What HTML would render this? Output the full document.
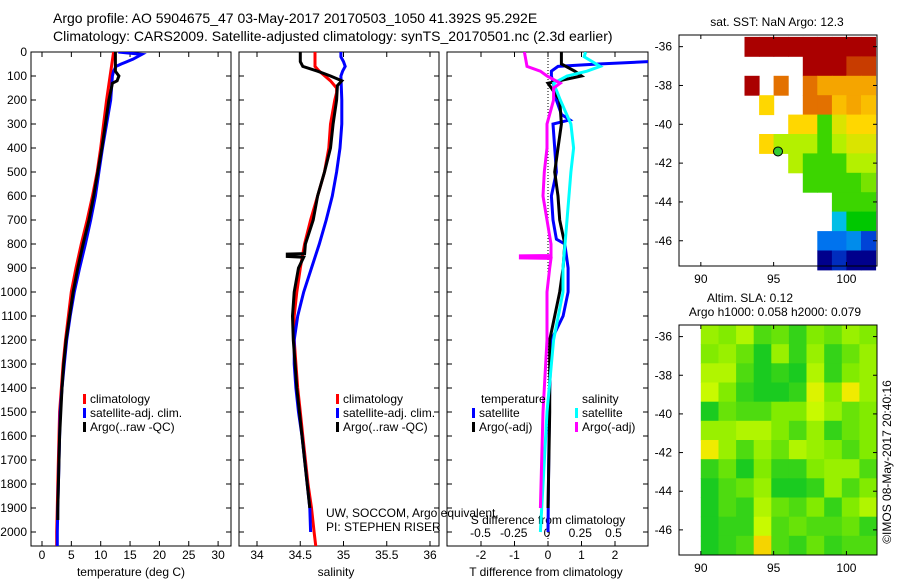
<!DOCTYPE html>
<html><head><meta charset="utf-8"><style>
html,body{margin:0;padding:0;background:#fff}
svg text{font-family:"Liberation Sans",sans-serif;fill:#000}
</style></head><body>
<svg id="c" width="900" height="580" xmlns="http://www.w3.org/2000/svg">
<text x="53" y="23" font-size="14">Argo profile: AO 5904675_47 03-May-2017 20170503_1050 41.392S 95.292E</text>
<text x="53" y="41" font-size="14">Climatology: CARS2009. Satellite-adjusted climatology: synTS_20170501.nc (2.3d earlier)</text>
<g id="g"></g>
<text transform="translate(891,462) rotate(-90)" font-size="12" text-anchor="middle">©IMOS 08-May-2017 20:40:16</text>
</svg>
<script>
// ---- data ----
const depthTicks=[0,100,200,300,400,500,600,700,800,900,1000,1100,1200,1300,1400,1500,1600,1700,1800,1900,2000];
const tempTicks=[0,5,10,15,20,25,30];
const salTicks=[34,34.5,35,35.5,36];
const dTTicks=[-2,-1,0,1,2];
const dSTicks=[-0.5,-0.25,0,0.25,0.5];
const tClimD=[0,100,200,300,400,500,600,700,800,900,1000,1100,1200,1300,1400,1500,1600,1700,1800,1900,2000,2060];
const tClimV=[12.2,11.6,11.0,10.5,10.0,9.4,8.6,7.7,6.7,5.8,5.0,4.5,4.0,3.6,3.3,3.0,2.9,2.8,2.7,2.6,2.5,2.5];
const tSatD=[0,10,30,50,60,80,100,200,300,400,500,600,700,800,900,1000,1100,1200,1300,1400,1500,1600,1700,1800,1900,2000,2060];
const tSatV=[13.0,17.0,15.5,13.5,12.6,12.2,12.0,11.7,11.0,10.3,9.7,9.1,8.3,7.4,6.4,5.5,4.8,4.2,3.8,3.4,3.1,3.0,2.9,2.8,2.7,2.6,2.6];
const tArgoD=[0,80,100,120,130,200,300,400,500,600,700,800,900,1000,1100,1200,1300,1400,1500,1600,1700,1800,1900,1950];
const tArgoV=[12.5,12.5,13.1,12.8,12.0,11.4,10.8,10.2,9.5,8.8,8.0,7.0,6.1,5.3,4.7,4.1,3.7,3.4,3.2,3.0,2.9,2.8,2.7,2.7];
const sClimD=[0,60,80,120,150,170,200,300,400,500,600,700,800,900,1000,1100,1200,1300,1400,1500,1600,1700,1800,1900,2000,2060];
const sClimV=[34.67,34.67,34.72,34.85,34.92,34.92,34.9,34.85,34.83,34.78,34.7,34.62,34.55,34.5,34.46,34.43,34.43,34.45,34.47,34.5,34.53,34.56,34.59,34.63,34.66,34.68];
const sSatD=[0,20,40,60,80,100,200,300,400,500,600,700,800,900,1000,1100,1200,1300,1400,1500,1600,1700,1800,1900,2000];
const sSatV=[34.97,34.97,35.0,35.02,34.99,34.97,34.98,34.98,34.96,34.92,34.87,34.8,34.72,34.63,34.54,34.47,34.43,34.43,34.45,34.48,34.52,34.55,34.58,34.61,34.62];
const sArgoD=[0,40,60,80,100,120,140,200,300,400,500,600,700,800,840,842,852,855,900,1000,1100,1200,1300,1400,1500,1600,1700,1800,1900];
const sArgoV=[34.5,34.5,34.53,34.7,34.85,34.98,34.93,34.92,34.88,34.85,34.78,34.7,34.65,34.56,34.55,34.35,34.35,34.54,34.48,34.43,34.41,34.42,34.44,34.46,34.49,34.52,34.55,34.58,34.61];
const dTSatD=[0,40,50,60,80,100,150,200,260,283,300,400,500,600,700,780,800,900,1000,1100,1200,1400,1700,2000];
const dTSatV=[3.5,3.0,1.5,0.3,0.1,0.1,0.2,0.25,0.4,0.65,0.15,0.2,0.25,0.1,0.15,0.25,0.5,0.6,0.6,0.45,0.1,0.05,0.02,0.0];
const dTArgoD=[0,50,80,100,130,200,300,400,500,600,700,800,900,1000,1100,1200,1500,1900];
const dTArgoV=[0.4,0.4,0.8,1.0,0.0,0.35,0.4,0.3,0.2,0.3,0.35,0.5,0.45,0.35,0.2,0.05,0.05,0.0];
const dSSatD=[0,20,60,80,100,130,200,300,400,500,700,900,1000,1200,1500,2000];
const dSSatV=[0.29,0.28,0.4,0.3,0.15,0.05,0.1,0.18,0.2,0.18,0.15,0.12,0.12,0.05,0.0,-0.05];
const dSArgoD=[0,60,80,100,130,150,200,300,400,500,600,700,800,848,849,858,860,900,1000,1200,1500,1900];
const dSArgoV=[-0.17,-0.15,-0.05,0.0,0.1,0.05,0.05,0.0,0.0,-0.02,-0.03,0.0,0.03,0.03,-0.2,-0.2,0.03,0.02,0.0,0.0,-0.03,-0.05];
const lonTicks=[90,95,100];
const latTicks=[-36,-38,-40,-42,-44,-46];
const sstLons=[88.5,89.5,90.5,91.5,92.5,93.5,94.5,95.5,96.5,97.5,98.5,99.5,100.5,101.5];
const sstLats=[-35.5,-36.5,-37.5,-38.5,-39.5,-40.5,-41.5,-42.5,-43.5,-44.5,-45.5,-46.5];
const N=null;
const sstVals=[
[N,N,N,N,N,18,18,18,18,18,18,18,18,18],
[N,N,N,N,N,N,N,N,N,18,18,18,17,17],
[N,N,N,N,N,18,N,16,N,16,15,15,15,15],
[N,N,N,N,N,N,14,N,N,16,16,14.5,15,14.5],
[N,N,N,N,N,N,N,N,14,14,12,13.5,14,14],
[N,N,N,N,N,N,14,13,13,13,12,13,13.5,13.5],
[N,N,N,N,N,N,N,N,13,12,12,12,13,13],
[N,N,N,N,N,N,N,N,N,12,12,12,12,12.5],
[N,N,N,N,N,N,N,N,N,N,N,12,12,12],
[N,N,N,N,N,N,N,N,N,N,N,10,11.5,11.5],
[N,N,N,N,N,N,N,N,N,N,8.5,8.5,9,7.5],
[N,N,N,N,N,N,N,N,N,N,6,7,6,6]];
const slaVals=[
[.6,.5,.7,.3,.4,.2,.5,.4,.6,.5],
[.5,.6,.4,.1,.6,.2,.6,.2,.4,.6],
[.7,.7,.3,.1,.2,.1,.7,.2,.5,.6],
[.8,.5,.2,.1,.1,.2,.9,.5,1.0,.6],
[.1,.4,.3,.3,.5,.5,.8,.6,.4,.5],
[.6,.6,.7,.7,.5,.3,.6,.2,.4,.5],
[1.0,.6,.3,.6,.4,.7,.6,.5,.3,.5],
[.2,.4,.1,.5,.2,.2,.5,.6,.6,.3],
[.1,.3,.4,.6,.1,.1,.2,.6,.3,.5],
[.1,.3,.2,.7,.4,.3,.5,.2,.5,.7],
[.1,.2,.2,.8,.3,.4,.3,.3,.4,.2],
[.1,.2,.3,1.1,.3,.2,.4,.2,.3,.3]];
const argoPos=[95.3,-41.4];

// ---- drawing ----
const NS='http://www.w3.org/2000/svg';
const G=document.getElementById('g');
function mk(tag,attrs,parent){const e=document.createElementNS(NS,tag);for(const k in attrs)e.setAttribute(k,attrs[k]);(parent||G).appendChild(e);return e;}
function txt(x,y,s,size,anchor){const t=mk('text',{x:x,y:y,'font-size':size||12,'text-anchor':anchor||'middle'});t.textContent=s;return t;}
const yD=d=>52+d*0.24;
const Y0=52,Y1=546;
const panels=[
 {x0:31,x1:231,fx:v=>42+(v-0)*5.87,name:'temperature-panel'},
 {x0:239,x1:439,fx:v=>257+(v-34)*86.5,name:'salinity-panel'},
 {x0:447,x1:648,fx:v=>548+v*33.5,name:'difference-panel'}];
const fS=v=>547+v*133;
panels.forEach((p,i)=>{
 const r=mk('rect',{x:p.x0,y:Y0,width:p.x1-p.x0,height:Y1-Y0,fill:'none',stroke:'#000','stroke-width':1});
 
 
 const cp=mk('clipPath',{id:'cp'+i});mk('rect',{x:p.x0,y:Y0,width:p.x1-p.x0,height:Y1-Y0},cp);
 depthTicks.forEach(d=>{
  mk('line',{x1:p.x0,x2:p.x0+5,y1:yD(d),y2:yD(d),stroke:'#000'});
  mk('line',{x1:p.x1-5,x2:p.x1,y1:yD(d),y2:yD(d),stroke:'#000'});
 });
});
depthTicks.forEach(d=>{const t=txt(27,yD(d)+4,String(d),12,'end');
 
 });
function xticks(p,ticks,f,fmt){ticks.forEach(v=>{const x=f(v);
 mk('line',{x1:x,x2:x,y1:Y1,y2:Y1-5,stroke:'#000'});mk('line',{x1:x,x2:x,y1:Y0,y2:Y0+5,stroke:'#000'});
 const t=txt(x,559,fmt?fmt(v):String(v),12);
 
 });}
xticks(panels[0],tempTicks,panels[0].fx);
xticks(panels[1],salTicks,panels[1].fx);
xticks(panels[2],dTTicks,panels[2].fx);
dSTicks.forEach(v=>{const t=txt(fS(v),537,String(v),12);
 
 });
let t;
t=txt(131,576,'temperature (deg C)',12);
t=txt(336,576,'salinity',12);
t=txt(546,576,'T difference from climatology',12);
t=txt(548,524,'S difference from climatology',12);
t=txt(326,517,'UW, SOCCOM, Argo equivalent',12,'start');
t=txt(326,531,'PI: STEPHEN RISER',12,'start');
t=mk('line',{x1:548,x2:548,y1:Y0,y2:Y1,stroke:'#000','stroke-dasharray':'1,2'});


function series(ds,vs,f,color,pi,name){
 const pts=ds.map((d,i)=>f(vs[i]).toFixed(1)+','+yD(d).toFixed(1)).join(' ');
 const l=mk('polyline',{points:pts,fill:'none',stroke:color,'stroke-width':3,'clip-path':'url(#cp'+pi+')'});
 
 
}
series(tClimD,tClimV,panels[0].fx,'#ff0000',0,'temp-climatology-line');
series(tSatD,tSatV,panels[0].fx,'#0000ff',0,'temp-satellite-line');
series(tArgoD,tArgoV,panels[0].fx,'#000',0,'temp-argo-line');
series(sClimD,sClimV,panels[1].fx,'#ff0000',1,'sal-climatology-line');
series(sSatD,sSatV,panels[1].fx,'#0000ff',1,'sal-satellite-line');
series(sArgoD,sArgoV,panels[1].fx,'#000',1,'sal-argo-line');
series(dTSatD,dTSatV,panels[2].fx,'#0000ff',2,'tdiff-satellite-line');
series(dTArgoD,dTArgoV,panels[2].fx,'#000',2,'tdiff-argo-line');
series(dSSatD,dSSatV,fS,'#00ffff',2,'sdiff-satellite-line');
series(dSArgoD,dSArgoV,fS,'#ff00ff',2,'sdiff-argo-line');

function legend(x,y,color,label){
 const r=mk('rect',{x:x,y:y-9,width:3,height:10,fill:color});
 
 
 const tt=txt(x+7,y,label,12,'start');
 
 
}
[[0,'#ff0000','climatology'],[1,'#0000ff','satellite-adj. clim.'],[2,'#000','Argo(..raw -QC)']].forEach(a=>{
 legend(83,403+a[0]*14,a[1],a[2]);legend(336,403+a[0]*14,a[1],a[2]);});
t=txt(481,403,'temperature',12,'start');
t=txt(582,403,'salinity',12,'start');
legend(472,417,'#0000ff','satellite');legend(472,431,'#000','Argo(-adj)');
legend(575,417,'#00ffff','satellite');legend(575,431,'#ff00ff','Argo(-adj)');

// ---- maps ----
function interp(stops,v){if(v<=stops[0][0])return 'rgb('+stops[0][1].join(',')+')';
 for(let i=1;i<stops.length;i++){if(v<=stops[i][0]){const a=stops[i-1],b=stops[i],t=(v-a[0])/(b[0]-a[0]);
  return 'rgb('+a[1].map((c,k)=>Math.round(c+(b[1][k]-c)*t)).join(',')+')';}}
 return 'rgb('+stops[stops.length-1][1].join(',')+')';}
const sstStops=[[6,[0,0,140]],[8,[0,90,240]],[10,[0,190,230]],[11.5,[0,200,0]],[13,[180,240,0]],[14,[255,215,0]],[15.5,[240,140,0]],[17,[200,60,0]],[18,[170,0,0]]];
const slaStops=[[0,[0,195,40]],[0.5,[130,235,0]],[0.8,[200,250,0]],[1.0,[240,235,0]],[1.2,[250,190,0]]];
function map(y0,y1,latTop,latBot,name){
 const x0=679,x1=877,lonL=88.5,lonR=102.1;
 const fx=l=>x0+(l-lonL)*(x1-x0)/(lonR-lonL);
 const fy=l=>y0+(latTop-l)*(y1-y0)/(latTop-latBot);
 return {x0,x1,y0,y1,fx,fy,name};
}
const m1=map(35,266,-35.4,-47.3,'sst-map');
const m2=map(325,555,-35.4,-47.3,'sla-map');
sstVals.forEach((row,ri)=>row.forEach((v,ci)=>{if(v===null)return;
 const x=m1.fx(sstLons[ci]-0.5),y=m1.fy(sstLats[ri]);
 const c=mk('rect',{x:x.toFixed(1),y:y.toFixed(1),width:(m1.fx(sstLons[ci]+0.5)-x+0.5).toFixed(1),height:(m1.fy(sstLats[ri]-1)-y+0.5).toFixed(1),fill:interp(sstStops,v)});
 
 
}));
const slaLon0=90,slaLon1=102.1,slaLat0=-35.4,slaLat1=-47.3;
slaVals.forEach((row,ri)=>row.forEach((v,ci)=>{
 const dl=(slaLon1-slaLon0)/row.length,dt=(slaLat0-slaLat1)/slaVals.length;
 const x=m2.fx(slaLon0+ci*dl),y=m2.fy(slaLat0-ri*dt);
 const c=mk('rect',{x:x.toFixed(1),y:y.toFixed(1),width:(m2.fx(slaLon0+(ci+1)*dl)-x+0.5).toFixed(1),height:(m2.fy(slaLat0-(ri+1)*dt)-y+0.5).toFixed(1),fill:interp(slaStops,v)});
 
 
}));
const dot=mk('circle',{cx:m1.fx(argoPos[0]),cy:m1.fy(argoPos[1]),r:4.5,fill:'#33cc33',stroke:'#000','stroke-width':1});


[m1,m2].forEach(m=>{
 const f=mk('rect',{x:m.x0,y:m.y0,width:m.x1-m.x0,height:m.y1-m.y0,fill:'none',stroke:'#000'});
 
 
 lonTicks.forEach(l=>{const x=m.fx(l);mk('line',{x1:x,x2:x,y1:m.y1,y2:m.y1-4,stroke:'#000'});mk('line',{x1:x,x2:x,y1:m.y0,y2:m.y0+4,stroke:'#000'});
  const tt=txt(x,m.y1+17,String(l),12);});
 latTicks.forEach(l=>{const y=m.fy(l);mk('line',{x1:m.x0,x2:m.x0+4,y1:y,y2:y,stroke:'#000'});mk('line',{x1:m.x1-4,x2:m.x1,y1:y,y2:y,stroke:'#000'});
  const tt=txt(672,y+4,String(l),12,'end');});
});
t=txt(777,26,'sat. SST: NaN Argo: 12.3',12);
t=txt(750,302,'Altim. SLA: 0.12',12);
t=txt(775,316,'Argo h1000: 0.058 h2000: 0.079',12);
</script>
</body></html>
